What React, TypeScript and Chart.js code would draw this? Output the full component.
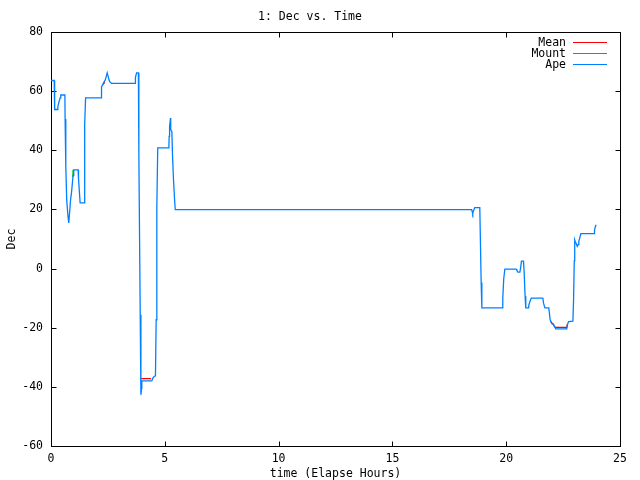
import React, { useEffect, useRef } from "react";
import { Chart, registerables } from "chart.js";

Chart.register(...registerables);

const chartTitle = "1: Dec vs. Time";
const xTitle = "time (Elapse Hours)";
const yTitle = "Dec";
const xTicks = [0, 5, 10, 15, 20, 25];
const yTicks = [-60, -40, -20, 0, 20, 40, 60, 80];
const seriesLabels = ["Mean", "Mount", "Ape"];
const seriesColors = ["#ff0000", "#00c000", "#0080ff"];

const apeTime = [
  0.0, 0.14, 0.15, 0.17, 0.27, 0.3, 0.34, 0.4, 0.43, 0.61,
  0.62, 0.65, 0.69, 0.74, 0.78, 0.81, 0.86, 0.9, 0.94, 0.97,
  1.0, 1.19, 1.21, 1.25, 1.28, 1.46, 1.47, 1.49, 1.52, 2.21,
  2.22, 2.32, 2.38, 2.43, 2.47, 2.51, 2.57, 2.66, 3.7, 3.71,
  3.76, 3.84, 3.86, 3.92, 3.95, 3.98, 3.99, 4.43, 4.47, 4.53,
  4.59, 4.62, 4.65, 4.69, 5.18, 5.19, 5.21, 5.25, 5.26, 5.31,
  5.34, 5.38, 5.43, 5.46, 18.48, 18.51, 18.53, 18.56, 18.62, 18.84,
  18.86, 18.9, 18.93, 19.84, 19.85, 19.89, 19.94, 20.44, 20.47, 20.51,
  20.6, 20.63, 20.67, 20.76, 20.79, 20.83, 20.86, 20.97, 20.99, 21.04,
  21.1, 21.61, 21.64, 21.7, 21.87, 21.9, 21.93, 21.98, 22.02, 22.08,
  22.12, 22.18, 22.66, 22.69, 22.74, 22.93, 22.96, 22.99, 23.01, 23.04,
  23.08, 23.12, 23.16, 23.19, 23.23, 23.28, 23.87, 23.88, 23.91, 23.95,
];
const apeDec = [
  63.6, 63.6, 58.6, 53.8, 53.8, 54.7, 56.0, 57.7, 58.7, 58.7,
  50.6, 34.6, 23.3, 18.2, 15.4, 18.2, 23.3, 25.6, 28.9, 31.5,
  33.4, 33.4, 30.4, 25.6, 22.2, 22.2, 31.2, 48.7, 57.7, 57.7,
  61.4, 63.0, 63.7, 65.0, 66.2, 65.0, 63.3, 62.6, 62.6, 64.7,
  66.2, 66.2, 39.1, -15.6, -42.7, -40.5, -38.0, -38.0, -37.1, -36.5,
  -36.3, -17.3, 21.0, 40.8, 40.8, 44.7, 48.1, 50.9, 47.0, 46.4,
  38.2, 30.3, 23.3, 19.9, 19.9, 19.2, 18.6, 19.5, 20.6, 20.6,
  12.2, -4.7, -13.3, -13.3, -10.1, -3.6, -0.2, -0.2, -0.6, -1.2,
  -1.2, 0.0, 2.5, 2.5, -1.5, -9.4, -13.3, -13.3, -12.4, -11.2,
  -10.0, -10.0, -11.7, -13.3, -13.3, -15.1, -17.3, -18.2, -18.7, -18.9,
  -19.6, -20.4, -20.4, -19.0, -17.9, -17.8, -10.6, 2.6, 9.7, 9.0,
  8.4, 7.5, 8.1, 9.2, 10.3, 11.8, 11.8, 12.9, 14.0, 14.8,
];

const meanTime = [2.28, 2.36, null, 3.96, 4.4, null, 21.95, 22.0, 22.05, 22.1, 22.16, 22.66, 22.69];
const meanDec = [62.2, 63.0, null, -37.2, -37.2, null, -17.8, -18.4, -18.6, -19.3, -19.9, -19.9, -18.8];

const mountTime = [0.96, 0.97, 0.99];
const mountDec = [31.0, 33.4, 33.4];

const FONT = "'DejaVu Sans Mono', 'Liberation Mono', monospace";

function zip(t: (number | null)[], v: (number | null)[]) {
  return t.map((x, i) => ({ x: x as number, y: v[i] as number }));
}

const framePlugin = {
  id: "gnuFrame",
  beforeDatasetsDraw(chart: any) {
    const { ctx, chartArea: a, scales } = chart;
    const L = Math.round(a.left) + 0.5;
    const R = Math.round(a.right) + 0.5;
    const T = Math.round(a.top) + 0.5;
    const B = Math.round(a.bottom) + 0.5;
    ctx.save();
    ctx.strokeStyle = "#000";
    ctx.lineWidth = 1;
    ctx.strokeRect(L, T, R - L, B - T);
    ctx.beginPath();
    const tl = 5;
    scales.x.ticks.forEach((t: any) => {
      const px = Math.round(scales.x.getPixelForValue(t.value)) + 0.5;
      ctx.moveTo(px, B);
      ctx.lineTo(px, B - tl);
      ctx.moveTo(px, T);
      ctx.lineTo(px, T + tl);
    });
    scales.y.ticks.forEach((t: any) => {
      const py = Math.round(scales.y.getPixelForValue(t.value)) + 0.5;
      ctx.moveTo(L, py);
      ctx.lineTo(L + tl, py);
      ctx.moveTo(R, py);
      ctx.lineTo(R - tl, py);
    });
    ctx.stroke();
    ctx.restore();
  },
  afterDraw(chart: any) {
    const { ctx } = chart;
    ctx.save();
    ctx.font = `11.5px ${FONT}`;
    ctx.textAlign = "right";
    ctx.textBaseline = "middle";
    chart.data.datasets.forEach((ds: any, i: number) => {
      const y = 43.5 + i * 11;
      ctx.fillStyle = "#000";
      ctx.fillText(ds.label, 566, y);
      ctx.strokeStyle = ds.borderColor;
      ctx.lineWidth = 1;
      ctx.beginPath();
      ctx.moveTo(573, y - 1);
      ctx.lineTo(607, y - 1);
      ctx.stroke();
    });
    ctx.restore();
  },
};

export default function App() {
  const ref = useRef<HTMLCanvasElement | null>(null);

  useEffect(() => {
    document.body.style.margin = "0";
    if (!ref.current) return;
    Chart.defaults.font.family = FONT;
    Chart.defaults.font.size = 11.5;
    Chart.defaults.color = "#000";
    const series = [zip(meanTime, meanDec), zip(mountTime, mountDec), zip(apeTime, apeDec)];
    const chart = new Chart(ref.current, {
      type: "line",
      data: {
        datasets: series.map((d, i) => ({
          label: seriesLabels[i],
          data: d,
          borderColor: seriesColors[i],
          backgroundColor: seriesColors[i],
          borderWidth: 1.3,
          pointRadius: 0,
          tension: 0,
          fill: false,
          spanGaps: false,
          order: 3 - i,
        })),
      },
      options: {
        animation: false,
        responsive: false,
        devicePixelRatio: 1,
        parsing: false as any,
        layout: { padding: { left: 0, right: 20, top: 0, bottom: 0 } },
        plugins: {
          legend: { display: false },
          tooltip: { enabled: false },
          title: {
            display: true,
            text: chartTitle,
            color: "#000",
            font: { family: FONT, size: 11.5, weight: "normal", lineHeight: "14px" },
            padding: { top: 10, bottom: 8 },
          },
        },
        scales: {
          x: {
            type: "linear",
            min: 0,
            max: 25,
            grid: { display: false, drawTicks: false },
            border: { display: false },
            afterBuildTicks: (s: any) => {
              s.ticks = xTicks.map((v) => ({ value: v }));
            },
            afterFit: (s: any) => {
              s.height = 34;
            },
            ticks: {
              padding: 6,
              maxRotation: 0,
              autoSkip: false,
              color: "#000",
              font: { family: FONT, size: 11.5 },
              callback: (v: any) => String(v),
            },
            title: {
              display: true,
              text: xTitle,
              color: "#000",
              font: { family: FONT, size: 11.5, lineHeight: "12px" },
              padding: { top: 0, bottom: 0 },
            },
          },
          y: {
            type: "linear",
            min: -60,
            max: 80,
            grid: { display: false, drawTicks: false },
            border: { display: false },
            afterBuildTicks: (s: any) => {
              s.ticks = yTicks.map((v) => ({ value: v }));
            },
            afterFit: (s: any) => {
              s.width = 51;
            },
            ticks: {
              padding: 8,
              autoSkip: false,
              color: "#000",
              font: { family: FONT, size: 11.5 },
              callback: (v: any) => String(v),
            },
            title: {
              display: true,
              text: yTitle,
              color: "#000",
              font: { family: FONT, size: 11.5 },
              padding: { top: 5, bottom: 0 },
            },
          },
        },
      },
      plugins: [framePlugin],
    } as any);
    return () => chart.destroy();
  }, []);

  return <canvas ref={ref} width={640} height={480} style={{ display: "block" }} />;
}
